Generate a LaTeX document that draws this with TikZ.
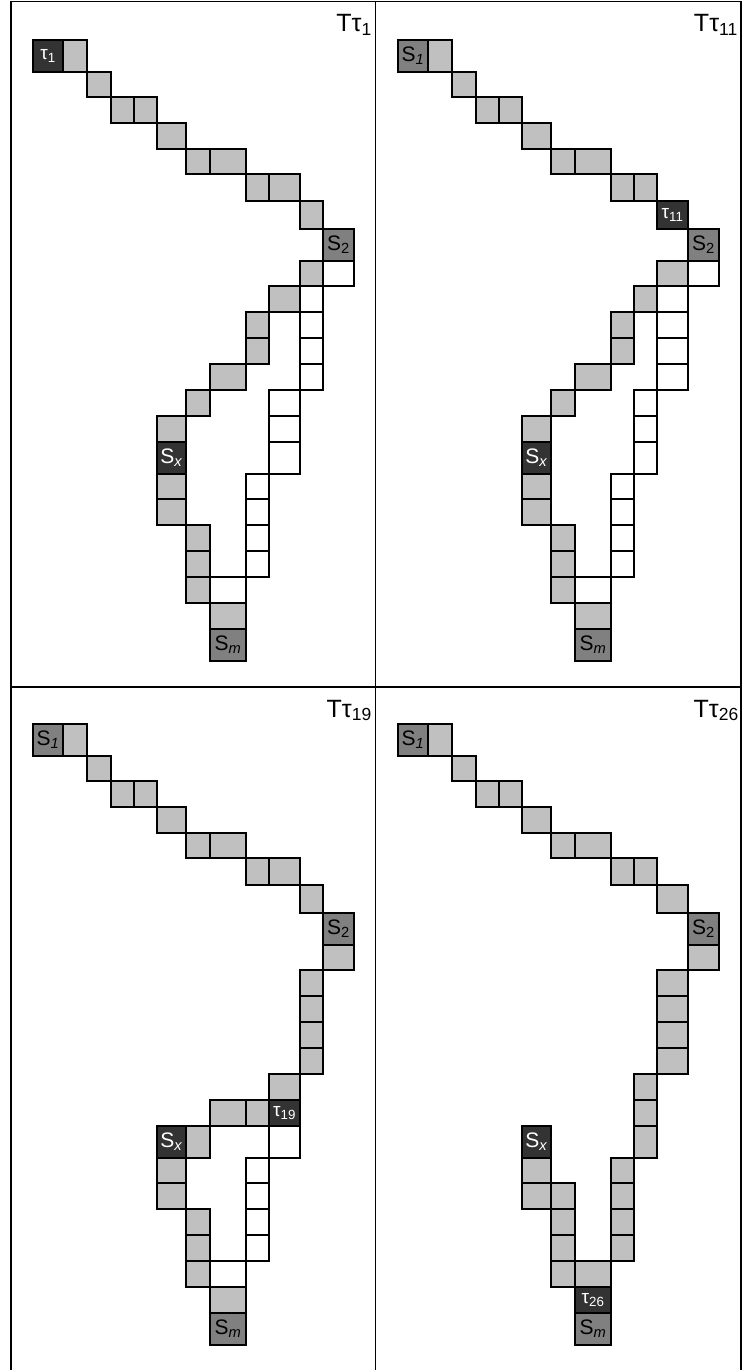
\documentclass[tikz,border=0pt]{standalone}
\usepackage{fontspec}
\setmainfont{Liberation Sans}
\definecolor{dark}{HTML}{333333}
\definecolor{mid}{HTML}{808080}
\definecolor{light}{HTML}{C0C0C0}
\tikzset{
  cellbox/.style={draw=black, line width=1.6pt},
  lt/.style={cellbox, fill=light},
  wt/.style={cellbox, fill=white},
  md/.style={cellbox, fill=mid},
  dk/.style={cellbox, fill=dark},
  slab/.style={font=\fontsize{21}{21}\selectfont, inner sep=0pt, text=black},
  slabw/.style={slab, text=white},
  tlab/.style={font=\fontsize{19}{19}\selectfont, inner sep=0pt, text=white},
  ttl/.style={font=\fontsize{25}{25}\selectfont, inner sep=0pt, anchor=base east},
  frame/.style={draw=black, line width=1.6pt}
}
\newcommand\BB[1]{\ifcase#1 40\or 72\or 97\or 123\or 149\or 174\or 201\or 229\or 261\or 286\or 312\or 338\or 364\or 390\or 416\or 442\or 474\or 499\or 525\or 551\or 577\or 603\or 629\or 661\fi}
\newcommand\CC[1]{\ifcase#1 33\or 63\or 87\or 111\or 134\or 157\or 186\or 210\or 246\or 269\or \cten\or 323\or 354\fi}
\newcommand\cell[4]{%
  \edef\xa{\CC{#2}}\edef\xb{\CC{#3}}%
  \edef\ya{\BB{\numexpr#4-1\relax}}\edef\yb{\BB{#4}}%
  \draw[#1] (\xa+\xo,\ya+\yo) rectangle (\xb+\xo,\yb+\yo);}
\newcommand\lcell[7]{%
  \cell{#1}{#2}{#3}{#4}%
  \node[#6] (#5) at ({(\xa+\xb)/2+\xo},{(\ya+\yb)/2+\yo}) {#7};}
\newcommand\common[1]{%
  \cell{lt}{1}{2}{1}
  \cell{lt}{2}{3}{2}
  \cell{lt}{3}{4}{3}\cell{lt}{4}{5}{3}
  \cell{lt}{5}{6}{4}
  \cell{lt}{6}{7}{5}\cell{lt}{7}{8}{5}
  \cell{lt}{8}{9}{6}\cell{lt}{9}{10}{6}
  \lcell{md}{11}{12}{8}{#1s2}{slab}{S\textsubscript{2}}
  \lcell{dk}{5}{6}{16}{#1sx}{slabw}{S\textsubscript{\textit{x}}}
  \lcell{md}{7}{8}{23}{#1sm}{slab}{S\textsubscript{\textit{m}}}
}
\begin{document}
\begin{tikzpicture}[x=1pt,y=-1pt]
\useasboundingbox (0,0) rectangle (743,1370);
% frame
\draw[frame] (11,1.5) -- (741,1.5);
\draw[frame] (11,1.5) -- (11,1370);
\draw[frame] (375.5,1.5) -- (375.5,1370);
\draw[frame] (741,1.5) -- (741,1370);
\draw[frame] (11,687) -- (741,687);
% ---------- panel 1 ----------
\def\xo{0}\def\yo{0}\def\cten{300}
\common{a}
\lcell{dk}{0}{1}{1}{at1}{tlab}{τ\textsubscript{1}}
\cell{lt}{10}{11}{7}
\cell{lt}{10}{11}{9}\cell{wt}{11}{12}{9}
\cell{lt}{9}{10}{10}\cell{wt}{10}{11}{10}
\cell{lt}{8}{9}{11}\cell{wt}{10}{11}{11}
\cell{lt}{8}{9}{12}\cell{wt}{10}{11}{12}
\cell{lt}{7}{8}{13}\cell{wt}{10}{11}{13}
\cell{lt}{6}{7}{14}\cell{wt}{9}{10}{14}
\cell{lt}{5}{6}{15}\cell{wt}{9}{10}{15}
\cell{wt}{9}{10}{16}
\cell{lt}{5}{6}{17}\cell{wt}{8}{9}{17}
\cell{lt}{5}{6}{18}\cell{wt}{8}{9}{18}
\cell{lt}{6}{7}{19}\cell{wt}{8}{9}{19}
\cell{lt}{6}{7}{20}\cell{wt}{8}{9}{20}
\cell{lt}{6}{7}{21}\cell{wt}{7}{8}{21}
\cell{lt}{7}{8}{22}
\node[ttl] (title1) at (372,32) {Tτ\textsubscript{1}};
% ---------- panel 2 ----------
\def\xo{365}\def\yo{0}\def\cten{292}
\common{b}
\lcell{md}{0}{1}{1}{bs1}{slab}{S\textsubscript{\textit{1}}}
\lcell{dk}{10}{11}{7}{bt11}{tlab}{τ\textsubscript{11}}
\cell{lt}{10}{11}{9}\cell{wt}{11}{12}{9}
\cell{lt}{9}{10}{10}\cell{wt}{10}{11}{10}
\cell{lt}{8}{9}{11}\cell{wt}{10}{11}{11}
\cell{lt}{8}{9}{12}\cell{wt}{10}{11}{12}
\cell{lt}{7}{8}{13}\cell{wt}{10}{11}{13}
\cell{lt}{6}{7}{14}\cell{wt}{9}{10}{14}
\cell{lt}{5}{6}{15}\cell{wt}{9}{10}{15}
\cell{wt}{9}{10}{16}
\cell{lt}{5}{6}{17}\cell{wt}{8}{9}{17}
\cell{lt}{5}{6}{18}\cell{wt}{8}{9}{18}
\cell{lt}{6}{7}{19}\cell{wt}{8}{9}{19}
\cell{lt}{6}{7}{20}\cell{wt}{8}{9}{20}
\cell{lt}{6}{7}{21}\cell{wt}{7}{8}{21}
\cell{lt}{7}{8}{22}
\node[ttl] (title2) at (738,32) {Tτ\textsubscript{11}};
% ---------- panel 3 ----------
\def\xo{0}\def\yo{684}\def\cten{300}
\common{c}
\lcell{md}{0}{1}{1}{cs1}{slab}{S\textsubscript{\textit{1}}}
\cell{lt}{10}{11}{7}
\cell{lt}{11}{12}{9}
\cell{lt}{10}{11}{10}
\cell{lt}{10}{11}{11}
\cell{lt}{10}{11}{12}
\cell{lt}{10}{11}{13}
\cell{lt}{9}{10}{14}
\cell{lt}{7}{8}{15}\cell{lt}{8}{9}{15}
\lcell{dk}{9}{10}{15}{ct19}{tlab}{τ\textsubscript{19}}
\cell{lt}{6}{7}{16}\cell{wt}{9}{10}{16}
\cell{lt}{5}{6}{17}\cell{wt}{8}{9}{17}
\cell{lt}{5}{6}{18}\cell{wt}{8}{9}{18}
\cell{lt}{6}{7}{19}\cell{wt}{8}{9}{19}
\cell{lt}{6}{7}{20}\cell{wt}{8}{9}{20}
\cell{lt}{6}{7}{21}\cell{wt}{7}{8}{21}
\cell{lt}{7}{8}{22}
\node[ttl] (title3) at (372,717) {Tτ\textsubscript{19}};
% ---------- panel 4 ----------
\def\xo{365}\def\yo{684}\def\cten{292}
\common{d}
\lcell{md}{0}{1}{1}{ds1}{slab}{S\textsubscript{\textit{1}}}
\cell{lt}{10}{11}{7}
\cell{lt}{11}{12}{9}
\cell{lt}{10}{11}{10}
\cell{lt}{10}{11}{11}
\cell{lt}{10}{11}{12}
\cell{lt}{10}{11}{13}
\cell{lt}{9}{10}{14}
\cell{lt}{9}{10}{15}
\cell{lt}{9}{10}{16}
\cell{lt}{5}{6}{17}\cell{lt}{8}{9}{17}
\cell{lt}{5}{6}{18}\cell{lt}{6}{7}{18}\cell{lt}{8}{9}{18}
\cell{lt}{6}{7}{19}\cell{lt}{8}{9}{19}
\cell{lt}{6}{7}{20}\cell{lt}{8}{9}{20}
\cell{lt}{6}{7}{21}\cell{lt}{7}{8}{21}
\lcell{dk}{7}{8}{22}{dt26}{tlab}{τ\textsubscript{26}}
\node[ttl] (title4) at (739,717) {Tτ\textsubscript{26}};
\end{tikzpicture}
\end{document}
